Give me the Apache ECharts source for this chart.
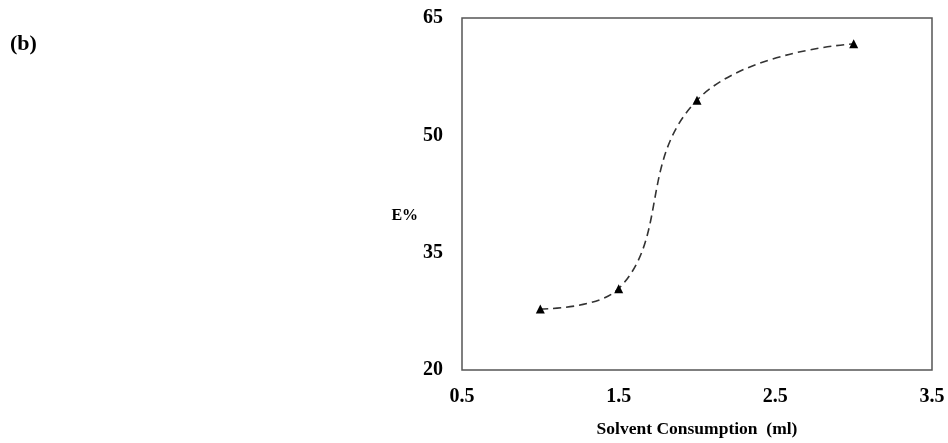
<!DOCTYPE html>
<html>
<head>
<meta charset="utf-8">
<script src="https://cdn.jsdelivr.net/npm/echarts@6/dist/echarts.min.js"></script>
<style>
  html, body { margin: 0; padding: 0; background: #fff; }
  #chart { width: 948px; height: 443px; }
</style>
</head>
<body>
<div id="chart"></div>
<script>
// Extraction efficiency versus solvent volume
const solventMl = [1, 1.5, 2, 3];
const efficiency = [27.8, 30.4, 54.5, 61.7];
const xTicks = [0.5, 1.5, 2.5, 3.5];
const yTicks = [20, 35, 50, 65];

const serif = '"Liberation Serif", "DejaVu Serif", serif';
const chart = echarts.init(document.getElementById('chart'), null, { renderer: 'canvas' });

chart.setOption({
  animation: false,
  backgroundColor: '#ffffff',
  title: {
    text: '(b)',
    left: 5,
    top: 28,
    textStyle: { fontFamily: serif, fontWeight: 'bold', fontSize: 22, color: '#000' }
  },
  grid: {
    left: 462, top: 18, width: 470, height: 359,
    show: true, borderColor: '#555', borderWidth: 1.5, backgroundColor: 'transparent'
  },
  xAxis: {
    type: 'value',
    min: xTicks[0], max: xTicks[xTicks.length - 1], interval: 1,
    name: 'Solvent Consumption  (ml)',
    nameLocation: 'middle', nameGap: 50,
    nameTextStyle: { fontFamily: serif, fontWeight: 'bold', fontSize: 17.5, color: '#000' },
    axisLine: { show: false }, axisTick: { show: false }, splitLine: { show: false },
    axisLabel: { fontFamily: serif, fontWeight: 'bold', fontSize: 20, color: '#000', margin: 17 }
  },
  yAxis: {
    type: 'value',
    min: yTicks[0], max: yTicks[yTicks.length - 1], interval: 15,
    name: 'E%',
    nameLocation: 'middle', nameRotate: 0, nameGap: 23,
    // the label sits a little below the vertical middle of the axis
    nameTextStyle: {
      fontFamily: serif, fontWeight: 'bold', fontSize: 16, color: '#000',
      verticalAlign: 'top', lineHeight: 43
    },
    axisLine: { show: false }, axisTick: { show: false }, splitLine: { show: false },
    axisLabel: { fontFamily: serif, fontWeight: 'bold', fontSize: 20, color: '#000', margin: 19 }
  },
  series: [{
    type: 'line',
    data: solventMl.map((x, i) => [x, efficiency[i]]),
    smooth: 0.45,
    symbol: 'triangle',
    symbolSize: 9,
    itemStyle: { color: '#000' },
    lineStyle: { color: '#333', width: 1.6, type: [8, 5] }
  }]
});
</script>
</body>
</html>
